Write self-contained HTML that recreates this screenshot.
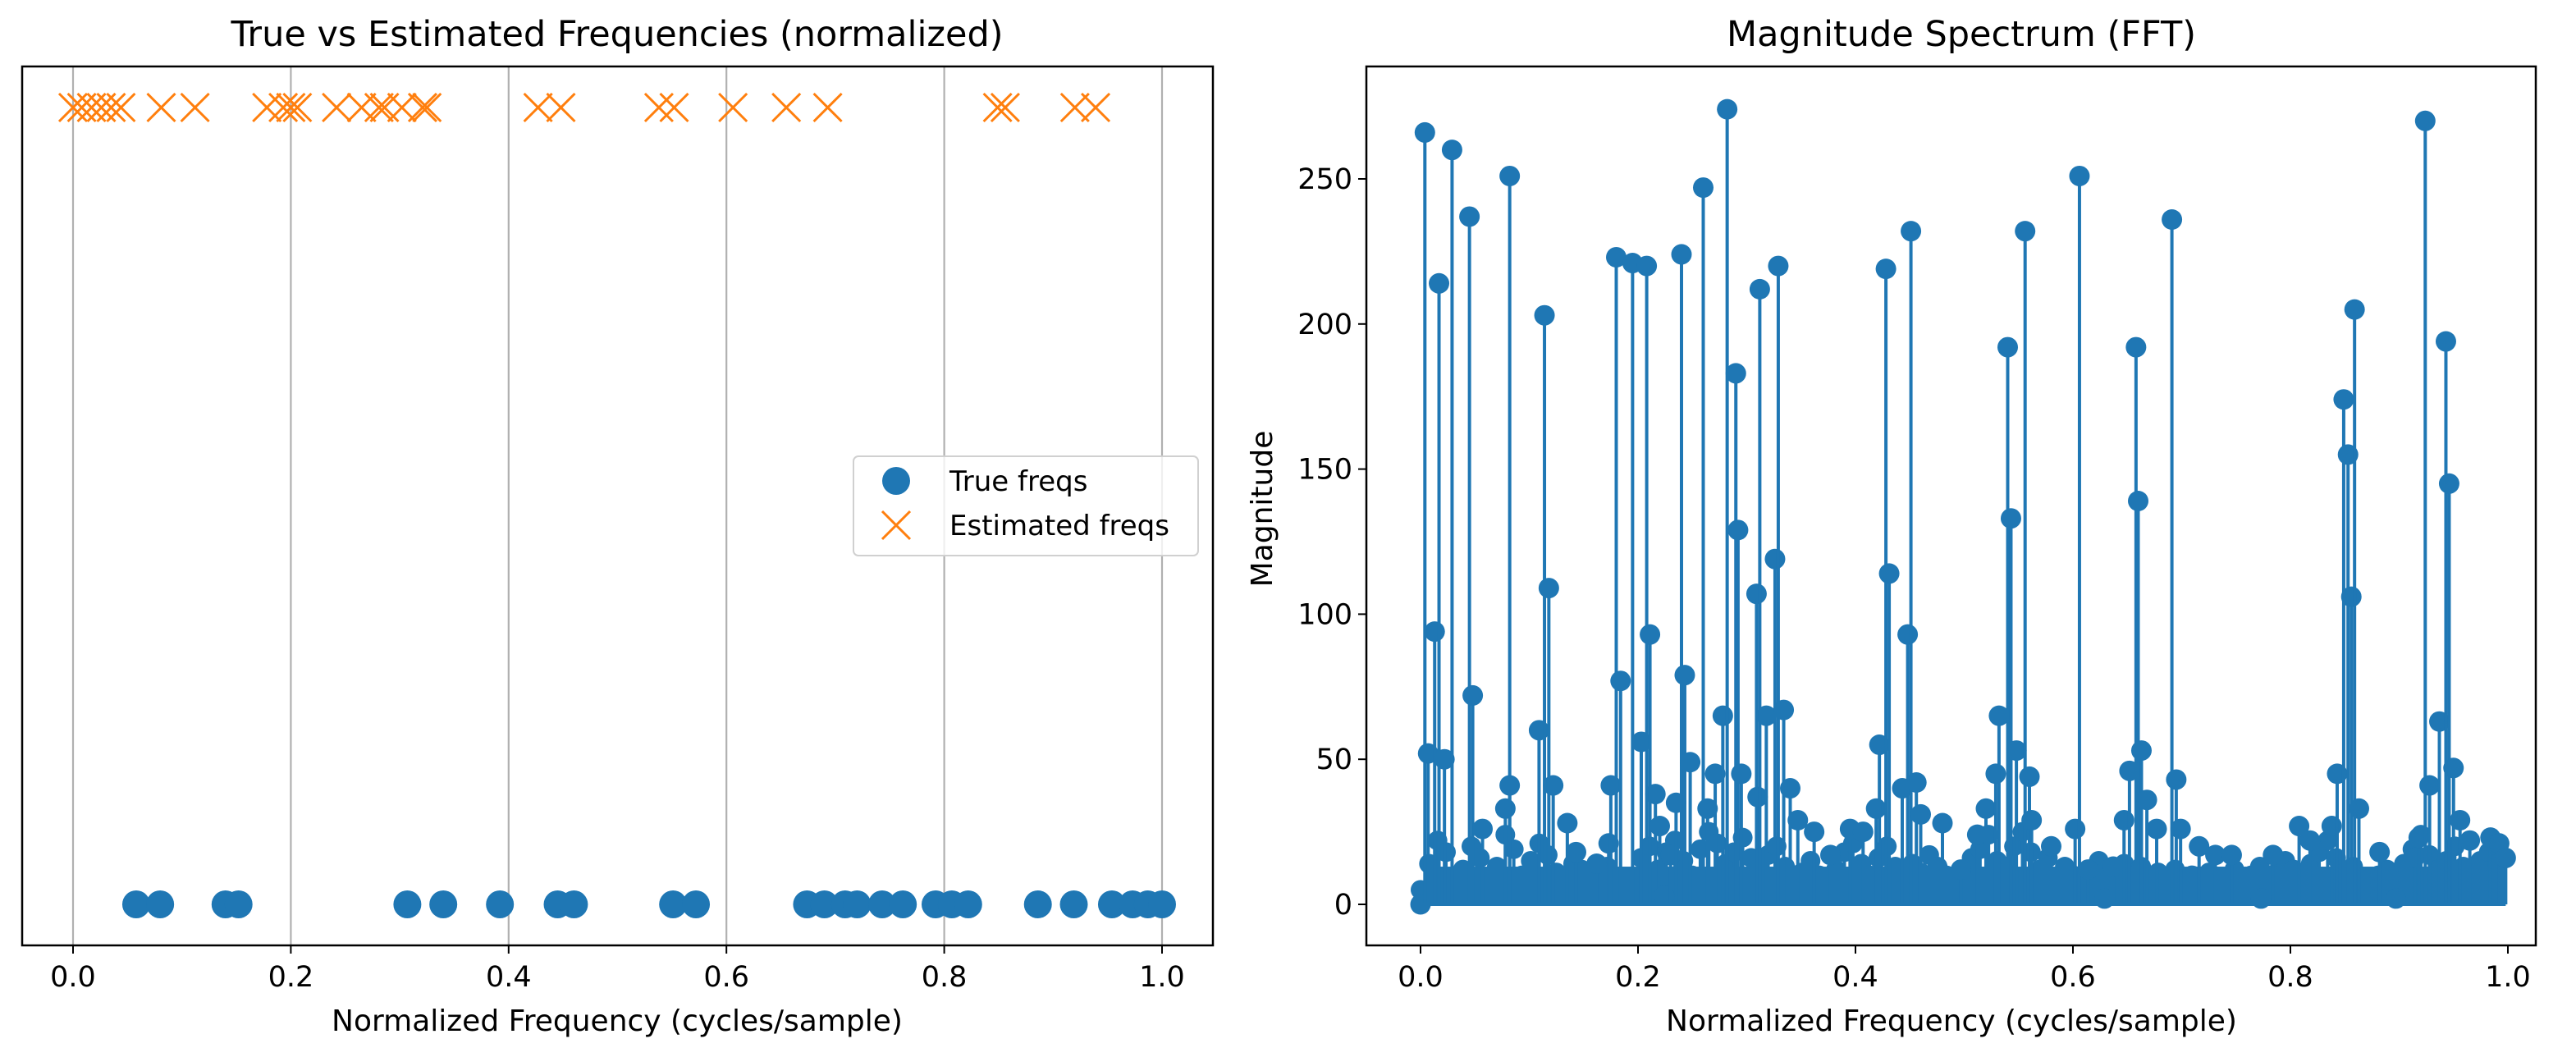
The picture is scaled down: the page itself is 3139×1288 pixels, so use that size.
<!DOCTYPE html>
<html><head><meta charset="utf-8"><style>
html,body{margin:0;padding:0;background:#fff;}
svg{display:block;font-family:"DejaVu Sans","Liberation Sans",sans-serif;}
</style></head><body>
<svg id="fig" width="3139" height="1288" viewBox="0 0 3139 1288" xmlns="http://www.w3.org/2000/svg">
<rect width="3139" height="1288" fill="#fff"/>
<g id="left"></g>
<g id="right"></g>
</svg>
<script>
// ---- data: left chart ----
const trueFreqs = [0.058,0.080,0.140,0.152,0.307,0.340,0.392,0.445,0.460,0.551,0.572,0.674,0.690,0.709,0.720,0.743,0.762,0.792,0.807,0.822,0.886,0.919,0.954,0.973,0.987,1.000];
const estFreqs = [0.000,0.008,0.017,0.026,0.035,0.044,0.081,0.112,0.178,0.193,0.200,0.206,0.242,0.265,0.281,0.286,0.302,0.321,0.325,0.427,0.448,0.538,0.552,0.606,0.655,0.693,0.849,0.856,0.920,0.939];
const leftTicks = [0.0,0.2,0.4,0.6,0.8,1.0];
const leftTickLabels = ["0.0","0.2","0.4","0.6","0.8","1.0"];
// ---- data: right chart (peaks) ----
const peakFreqs = [0.000,0.004,0.007,0.013,0.017,0.022,0.029,0.045,0.048,0.057,0.078,0.082,0.082,0.109,0.114,0.118,0.122,0.135,0.143,0.162,0.173,0.175,0.180,0.184,0.195,0.203,0.208,0.211,0.216,0.220,0.224,0.230,0.235,0.240,0.243,0.248,0.260,0.264,0.271,0.278,0.282,0.290,0.292,0.295,0.309,0.310,0.312,0.318,0.326,0.329,0.334,0.340,0.347,0.362,0.377,0.395,0.407,0.419,0.422,0.428,0.431,0.443,0.448,0.451,0.456,0.460,0.480,0.497,0.512,0.520,0.529,0.532,0.540,0.543,0.548,0.556,0.560,0.562,0.580,0.602,0.606,0.614,0.629,0.637,0.647,0.652,0.658,0.660,0.663,0.668,0.677,0.691,0.695,0.699,0.716,0.731,0.746,0.773,0.784,0.808,0.818,0.838,0.843,0.849,0.853,0.856,0.859,0.863,0.882,0.897,0.914,0.918,0.924,0.928,0.937,0.943,0.946,0.950,0.956,0.965,0.984,0.992,0.998];
const peakMags = [0,266,52,94,214,50,260,237,72,26,33,251,41,60,203,109,41,28,18,14,21,41,223,77,221,56,220,93,38,27,3,17,35,224,79,49,247,33,45,65,274,183,129,45,107,37,212,65,119,220,67,40,29,25,17,26,25,33,55,219,114,40,93,232,42,31,28,12,24,33,45,65,192,133,53,232,44,29,20,26,251,12,2,13,29,46,192,139,53,36,26,236,43,26,20,17,17,2,17,27,22,27,45,174,155,106,205,33,18,2,16,23,270,41,63,194,145,47,29,22,23,21,16];
// ---- data: right chart (noise floor, 128 bins) ----
const floorMags = [5,14,22,18,9,12,20,16,8,13,24,19,10,15,21,17,11,9,14,12,7,10,13,8,6,9,16,20,12,18,22,15,10,19,25,21,14,18,23,16,12,17,20,13,9,11,15,10,8,12,18,21,14,10,16,20,13,9,14,11,17,13,10,8,12,16,19,24,15,11,20,25,18,12,16,9,13,10,7,11,15,12,9,14,10,13,8,11,9,12,8,10,7,11,9,6,12,8,10,13,9,11,15,12,9,14,18,22,16,11,13,9,7,10,12,8,14,19,24,17,12,15,20,13,10,15,18,14];
const rightYTicks = [0,50,100,150,200,250];
const rightYTickLabels = ["0","50","100","150","200","250"];
const rightXTicks = [0.0,0.2,0.4,0.6,0.8,1.0];
const rightXTickLabels = ["0.0","0.2","0.4","0.6","0.8","1.0"];

const NS="http://www.w3.org/2000/svg";
function mk(parent,tag,attrs,text){const e=document.createElementNS(NS,tag);for(const k in attrs)e.setAttribute(k,attrs[k]);if(text!==undefined)e.textContent=text;parent.appendChild(e);return e;}
const BLUE="#1f77b4", ORANGE="#ff7f0e";

// ---------- LEFT ----------
const L=document.getElementById('left');
const lx=v=>89+v*(1416-89);
const ly=v=>1102-v*(1102-131);
let t=mk(L,'text',{x:752,y:56,'font-size':43,'text-anchor':'middle',fill:'#000'},'True vs Estimated Frequencies (normalized)');


leftTicks.forEach((v,i)=>{
  let g=mk(L,'line',{x1:lx(v),x2:lx(v),y1:81,y2:1152,stroke:'#b0b0b0','stroke-width':2.2});
  
  
  mk(L,'line',{x1:lx(v),x2:lx(v),y1:1152,y2:1162,stroke:'#000','stroke-width':2});
  let tl=mk(L,'text',{x:lx(v),y:1202,'font-size':35,'text-anchor':'middle',fill:'#000'},leftTickLabels[i]);
  
  
});
trueFreqs.forEach(f=>{
  let c=mk(L,'circle',{cx:lx(f),cy:ly(0),r:17,fill:BLUE});
  
  
});
estFreqs.forEach(f=>{
  const x=lx(f),y=ly(1),s=17;
  let p=mk(L,'path',{d:`M${x-s},${y-s}L${x+s},${y+s}M${x-s},${y+s}L${x+s},${y-s}`,stroke:ORANGE,'stroke-width':3,fill:'none'});
  
  
});
let lf=mk(L,'rect',{x:27,y:81,width:1451,height:1071,fill:'none',stroke:'#000','stroke-width':2.5});


t=mk(L,'text',{x:752,y:1256,'font-size':36,'text-anchor':'middle',fill:'#000'},'Normalized Frequency (cycles/sample)');


// legend
const lg=mk(L,'g',{});


mk(lg,'rect',{x:1040,y:556,width:420,height:121,rx:6,fill:'#fff','fill-opacity':0.8,stroke:'#d0d0d0','stroke-width':2});
let le=mk(lg,'circle',{cx:1092,cy:586,r:17,fill:BLUE});


mk(lg,'text',{x:1157,y:598,'font-size':34,fill:'#000'},'True freqs');
le=mk(lg,'path',{d:'M1075,623L1109,657M1075,657L1109,623',stroke:ORANGE,'stroke-width':3});


mk(lg,'text',{x:1157,y:652,'font-size':34,fill:'#000'},'Estimated freqs');

// ---------- RIGHT ----------
const R=document.getElementById('right');
const rx=v=>1731+v*(3056-1731);
const ry=v=>1102-v*((1102-218)/250);
t=mk(R,'text',{x:2390,y:56,'font-size':43,'text-anchor':'middle',fill:'#000'},'Magnitude Spectrum (FFT)');


rightYTicks.forEach((v,i)=>{
  mk(R,'line',{x1:1655,x2:1665,y1:ry(v),y2:ry(v),stroke:'#000','stroke-width':2});
  let tl=mk(R,'text',{x:1648,y:ry(v)+12,'font-size':35,'text-anchor':'end',fill:'#000'},rightYTickLabels[i]);
  
  
});
rightXTicks.forEach((v,i)=>{
  mk(R,'line',{x1:rx(v),x2:rx(v),y1:1152,y2:1162,stroke:'#000','stroke-width':2});
  let tl=mk(R,'text',{x:rx(v),y:1202,'font-size':35,'text-anchor':'middle',fill:'#000'},rightXTickLabels[i]);
  
  
});
// noise floor stems
floorMags.forEach((m,i)=>{
  const f=i/floorMags.length*0.998;
  const x=rx(f);
  let s=mk(R,'line',{x1:x,x2:x,y1:ry(0),y2:ry(m),stroke:BLUE,'stroke-width':4});
  
  
  let c=mk(R,'circle',{cx:x,cy:ry(m),r:12,fill:BLUE});
  
  
});
// dense floor band
let band=mk(R,'rect',{x:rx(0.004),y:ry(13),width:rx(0.998)-rx(0.004),height:ry(0)-ry(13),fill:BLUE});


// peak stems
peakFreqs.forEach((f,i)=>{
  const x=rx(f),m=peakMags[i];
  let s=mk(R,'line',{x1:x,x2:x,y1:ry(0),y2:ry(m),stroke:BLUE,'stroke-width':4});
  
  
  let c=mk(R,'circle',{cx:x,cy:ry(m),r:12.5,fill:BLUE});
  
  
});
let bl=mk(R,'line',{x1:rx(0),x2:rx(0.998),y1:ry(0),y2:ry(0),stroke:BLUE,'stroke-width':4});


let rf=mk(R,'rect',{x:1665,y:81,width:1425,height:1071,fill:'none',stroke:'#000','stroke-width':2.5});


t=mk(R,'text',{x:2378,y:1256,'font-size':36,'text-anchor':'middle',fill:'#000'},'Normalized Frequency (cycles/sample)');


t=mk(R,'text',{x:0,y:0,'font-size':36,'text-anchor':'middle',fill:'#000',transform:'translate(1550,620) rotate(-90)'},'Magnitude');


</script>
</body></html>
